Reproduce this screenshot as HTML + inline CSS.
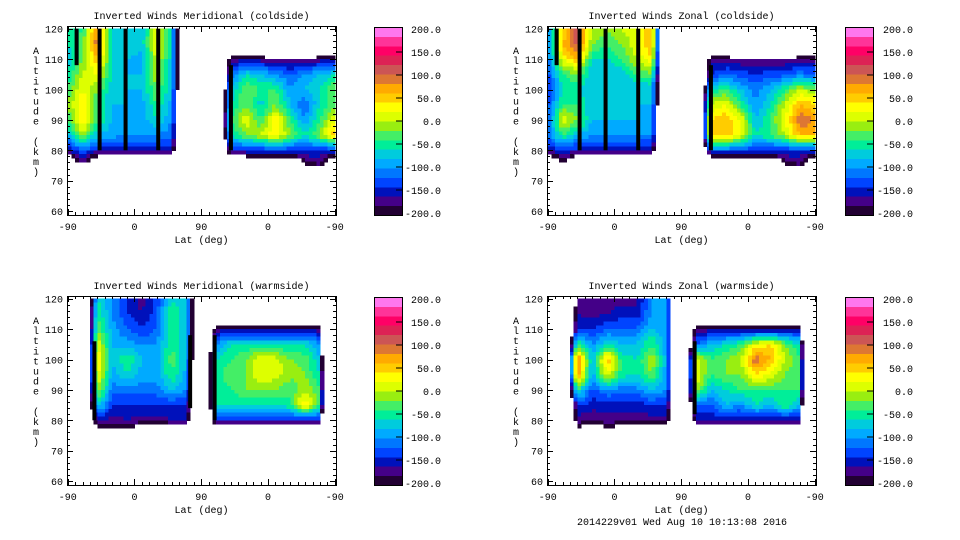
<!DOCTYPE html>
<html><head><meta charset="utf-8">
<style>
html,body{margin:0;padding:0;background:#fff;}
svg{display:block;}
text{font-family:"Liberation Mono",monospace;font-size:10px;fill:#000;}
</style></head>
<body>
<svg id="chart" width="960" height="540" viewBox="0 0 960 540" xmlns="http://www.w3.org/2000/svg">
<rect width="960" height="540" fill="#fff"/>
</svg>
<script>
const B = -400;
const lonCols = [0,20,40,60,80,100,120,140,160,180,200,220,240,260,280,300,320,340,360];
const altRows = [120,115,110,105,100,95,90,85,80,75];
const yTicks = [60,70,80,90,100,110,120];
const xTickLabels = ["-90","0","90","0","-90"];
const cbLabels = ["200.0","150.0","100.0","50.0","0.0","-50.0","-100.0","-150.0","-200.0"];
const levelColors = ["#220033","#440088","#0011bb","#0044ff","#0077ff","#00aaff","#00ccdd","#00ee99","#44ee66","#99ee11","#ddff00","#ffff00","#ffcc00","#ffaa00","#dd7733","#cc5555","#dd2255","#ff0066","#ff3399","#ff77ee"];

const merCold = [
[-60,-40,80,-60,-80,-80,20,-60,B,B,B,B,B,B,B,B,B,B,B],
[-60,-30,100,-60,-60,-70,20,-70,B,B,B,B,B,B,B,B,B,B,B],
[-80,-20,60,-60,-80,-90,10,-70,B,B,B,-170,-170,-170,-180,-180,-180,-170,-170],
[-60,0,20,-60,-80,-80,0,-80,B,B,B,-120,-60,-80,-100,-120,-100,-80,-60],
[-40,20,-20,-80,-80,-80,-20,-80,B,B,B,-80,-20,-40,-40,-100,-80,-60,-20],
[-20,40,-40,-80,-80,-90,-40,-90,B,B,B,-60,-20,-70,-20,-80,-120,-60,-20],
[-40,40,-40,-80,-90,-90,-60,-100,B,B,B,-40,20,-40,40,-40,-100,-40,20],
[-80,0,-80,-90,-100,-100,-100,-110,B,B,B,-60,-20,0,40,-20,-60,-10,60],
[-160,-120,-150,-150,-150,-150,-150,-160,B,B,B,-150,-140,-140,-130,-140,-140,-140,-140],
[-300,-200,-300,-300,-300,-300,-300,-300,B,B,B,-300,-300,-300,-300,-300,-200,-180,-300]];
const zonCold = [
[-100,40,110,0,-20,0,20,60,B,B,B,B,B,B,B,B,B,B,B],
[-100,60,110,-20,-40,-20,20,60,B,B,B,B,B,B,B,B,B,B,B],
[-120,20,60,-60,-60,-40,0,40,B,B,B,-170,-170,-180,-180,-180,-180,-170,-170],
[-130,-40,-20,-80,-80,-80,-40,-20,B,B,B,-140,-120,-130,-140,-130,-130,-110,-120],
[-150,-60,-60,-80,-80,-60,-80,-80,B,B,B,-60,-40,-80,-110,-80,-40,0,-20],
[-130,-40,-40,-80,-70,-60,-80,-80,B,B,B,0,20,-40,-100,-60,0,60,40],
[-130,20,-20,-80,-80,-80,-80,-90,B,B,B,40,60,20,-80,-40,20,100,80],
[-120,-40,-80,-100,-100,-100,-100,-100,B,B,B,40,60,20,-60,-40,0,60,60],
[-160,-140,-150,-150,-150,-150,-150,-160,B,B,B,-120,-120,-130,-140,-140,-140,-140,-140],
[-300,-200,-300,-300,-300,-300,-300,-300,B,B,B,-300,-300,-300,-300,-300,-200,-180,-300]];
const merWarm = [
[B,B,-60,-100,-140,-170,-130,-60,-80,B,B,B,B,B,B,B,B,B,B],
[B,B,-40,-100,-140,-160,-130,-40,-80,B,B,B,B,B,B,B,B,B,B],
[B,B,-20,-90,-120,-140,-120,-40,-80,B,-170,-170,-170,-170,-170,-170,-170,-170,-1000],
[B,B,20,-80,-90,-100,-100,-40,-80,B,-100,-60,-60,-60,-60,-60,-60,-100,-1000],
[B,B,50,-80,-40,-80,-90,-30,-80,B,-60,-40,-20,20,10,-20,-30,-80,-1000],
[B,B,30,-90,-60,-90,-90,-40,-90,B,-60,-20,-20,20,10,-10,-20,-60,-1000],
[B,B,0,-110,-110,-110,-110,-80,-100,B,-60,-40,-20,-20,-20,-40,0,-40,-1000],
[B,B,-60,-140,-140,-140,-140,-140,-140,B,-60,-60,-60,-60,-60,-40,40,-40,-1000],
[B,B,-150,-170,-160,-170,-170,-160,-160,B,-150,-150,-150,-150,-150,-150,-150,-150,-1000],
[B,B,-230,-250,-220,-300,-300,-300,-300,B,-300,-300,-300,-300,-300,-300,-300,-300,-1000]];
const zonWarm = [
[B,B,-180,-180,-170,-170,-170,-100,-90,B,B,B,B,B,B,B,B,B,B],
[B,B,-160,-170,-160,-150,-150,-100,-90,B,B,B,B,B,B,B,B,B,B],
[B,B,-140,-140,-120,-120,-120,-80,-90,B,-170,-170,-170,-170,-170,-170,-170,-170,-1000],
[B,B,-40,-100,-60,-80,-80,-40,-90,B,-120,-80,-60,-40,20,40,-20,-60,-1000],
[B,B,100,-80,60,-50,-60,0,-90,B,20,-40,-20,0,100,60,0,-40,-1000],
[B,B,80,-90,20,-50,-60,-20,-90,B,20,-40,-20,-20,40,20,-20,-40,-1000],
[B,B,-40,-130,-100,-110,-110,-80,-100,B,0,-80,-60,-40,-40,-40,-40,-40,-1000],
[B,B,-140,-150,-150,-150,-150,-140,-140,B,-120,-120,-80,-100,-60,-80,-40,-80,-1000],
[B,B,-170,-180,-170,-170,-170,-170,-170,B,-160,-160,-160,-160,-160,-160,-160,-160,-1000],
[B,B,-230,-300,-220,-300,-300,-300,-300,B,-300,-300,-300,-300,-300,-300,-300,-300,-1000]];

const stripesMC_u = [12,43,78,122,220]; const stripesMC_top=[120,120,120,120,108]; const stripesMC_bot=[108,80,80,80,80];
const stripesZC_u = [12,43,78,122,220]; const stripesZC_top=[120,120,120,120,108]; const stripesZC_bot=[108,80,80,80,80];
const stripesMW_u = [36,165,198]; const stripesMW_top=[106,108,108]; const stripesMW_bot=[80,84,80];
const stripesZW_u = [198]; const stripesZW_top=[106]; const stripesZW_bot=[82];

const NS="http://www.w3.org/2000/svg";
const svg=document.getElementById('chart');
function mk(tag,attrs,parent){const e=document.createElementNS(NS,tag);for(const k in attrs)e.setAttribute(k,attrs[k]);(parent||svg).appendChild(e);return e;}
function colorFor(v){if(v< -200)return null;let i=Math.floor((v+200)/20);if(i<0)i=0;if(i>19)i=19;return levelColors[i];}

const panels=[
 {title:"Inverted Winds Meridional (coldside)",ox:0,oy:0,cbx:374,lblx:441,grid:merCold,su:stripesMC_u,st:stripesMC_top,sb:stripesMC_bot,name:"meridional-coldside"},
 {title:"Inverted Winds Zonal (coldside)",ox:480,oy:0,cbx:845,lblx:913,grid:zonCold,su:stripesZC_u,st:stripesZC_top,sb:stripesZC_bot,name:"zonal-coldside"},
 {title:"Inverted Winds Meridional (warmside)",ox:0,oy:270,cbx:374,lblx:441,grid:merWarm,su:stripesMW_u,st:stripesMW_top,sb:stripesMW_bot,name:"meridional-warmside"},
 {title:"Inverted Winds Zonal (warmside)",ox:480,oy:270,cbx:845,lblx:913,grid:zonWarm,su:stripesZW_u,st:stripesZW_top,sb:stripesZW_bot,name:"zonal-warmside"}];

panels.forEach(p=>{
 const g=mk('g',{});
 
 
 const L=67+p.ox,R=336+p.ox,T=26+p.oy,Bt=215+p.oy;
 const xs=u=>67.7+p.ox+u*0.742;
 const ys=a=>28.7+p.oy+(120-a)*3.04;
 const fill=mk('g',{'shape-rendering':'crispEdges'},g);
 
 
 const S=4;
 for(let r=0;r<altRows.length-1;r++){
  for(let c=0;c<lonCols.length-1;c++){
   const v00=p.grid[r][c],v01=p.grid[r][c+1],v10=p.grid[r+1][c],v11=p.grid[r+1][c+1];
   for(let i=0;i<S;i++)for(let j=0;j<S;j++){
    const fx=(i+0.5)/S,fy=(j+0.5)/S;
    const v=v00*(1-fx)*(1-fy)+v01*fx*(1-fy)+v10*(1-fx)*fy+v11*fx*fy;
    const col=colorFor(v);if(!col)continue;
    const u0=lonCols[c]+(lonCols[c+1]-lonCols[c])*i/S,u1=lonCols[c]+(lonCols[c+1]-lonCols[c])*(i+1)/S;
    const a0=altRows[r]+(altRows[r+1]-altRows[r])*j/S,a1=altRows[r]+(altRows[r+1]-altRows[r])*(j+1)/S;
    const rc=mk('rect',{x:xs(u0).toFixed(1),y:ys(a0).toFixed(1),width:(xs(u1)-xs(u0)+0.6).toFixed(1),height:(ys(a1)-ys(a0)+0.6).toFixed(1),fill:col},fill);
    
    
   }
  }
 }
 p.su.forEach((u,k)=>{
  const s=mk('rect',{x:xs(u)-2,y:ys(p.st[k]),width:4,height:ys(p.sb[k])-ys(p.st[k]),fill:'#000'},g);
  
  
 });
 const t=mk('text',{x:(L+R)/2,y:19+p.oy,'text-anchor':'middle'},g);t.textContent=p.title;
 
 
 const box=mk('rect',{x:L+0.5,y:T+0.5,width:R-L,height:Bt-T,fill:'none',stroke:'#000','stroke-width':1},g);
 
 
 for(let a=60;a<=120;a+=2){
  const y=Math.round(ys(a))+0.5,len=(a%10===0)?6:3;
  mk('line',{x1:L,x2:L+len,y1:y,y2:y,stroke:'#000'},g);
  mk('line',{x1:R-len,x2:R,y1:y,y2:y,stroke:'#000'},g);
 }
 yTicks.forEach(a=>{const tx=mk('text',{x:L-4,y:ys(a)+4,'text-anchor':'end'},g);tx.textContent=a;
  
  });
 for(let u=0;u<=360;u+=10){
  const x=Math.round(xs(u))+0.5,len=(u%90===0)?6:3;
  mk('line',{x1:x,x2:x,y1:Bt-len,y2:Bt,stroke:'#000'},g);
  mk('line',{x1:x,x2:x,y1:T,y2:T+len,stroke:'#000'},g);
 }
 xTickLabels.forEach((lb,k)=>{const tx=mk('text',{x:xs(k*90),y:230+p.oy,'text-anchor':'middle'},g);tx.textContent=lb;
  
  });
 const xl=mk('text',{x:(L+R)/2,y:243+p.oy,'text-anchor':'middle'},g);xl.textContent="Lat (deg)";
 
 
 const yl=mk('g',{},g);
 
 
 "Altitude (km)".split('').forEach((ch,k)=>{if(ch===' ')return;const tx=mk('text',{x:36+p.ox,y:54+p.oy+k*10.1,'text-anchor':'middle'},yl);tx.textContent=ch;});
 const cb=mk('g',{},g);
 
 
 const cbT=27+p.oy,cbB=215+p.oy,bh=(cbB-cbT)/levelColors.length;
 levelColors.forEach((c,i)=>{const r=mk('rect',{x:p.cbx,y:cbB-(i+1)*bh,width:28,height:bh+0.5,fill:c,'shape-rendering':'crispEdges'},cb);
  
  });
 mk('rect',{x:p.cbx+0.5,y:cbT+0.5,width:28,height:cbB-cbT,fill:'none',stroke:'#000'},cb);
 cbLabels.forEach((lb,k)=>{const y=cbT+2+k*(cbB-cbT-4)/(cbLabels.length-1);
  if(k>0&&k<cbLabels.length-1)mk('line',{x1:p.cbx+22,x2:p.cbx+28,y1:y,y2:y,stroke:'#000'},cb);
  const tx=mk('text',{x:p.lblx,y:y+4,'text-anchor':'end'},cb);tx.textContent=lb;
  
  });
});
const ft=mk('text',{x:682,y:525,'text-anchor':'middle'});ft.textContent="2014229v01 Wed Aug 10 10:13:08 2016";


</script>
</body></html>
